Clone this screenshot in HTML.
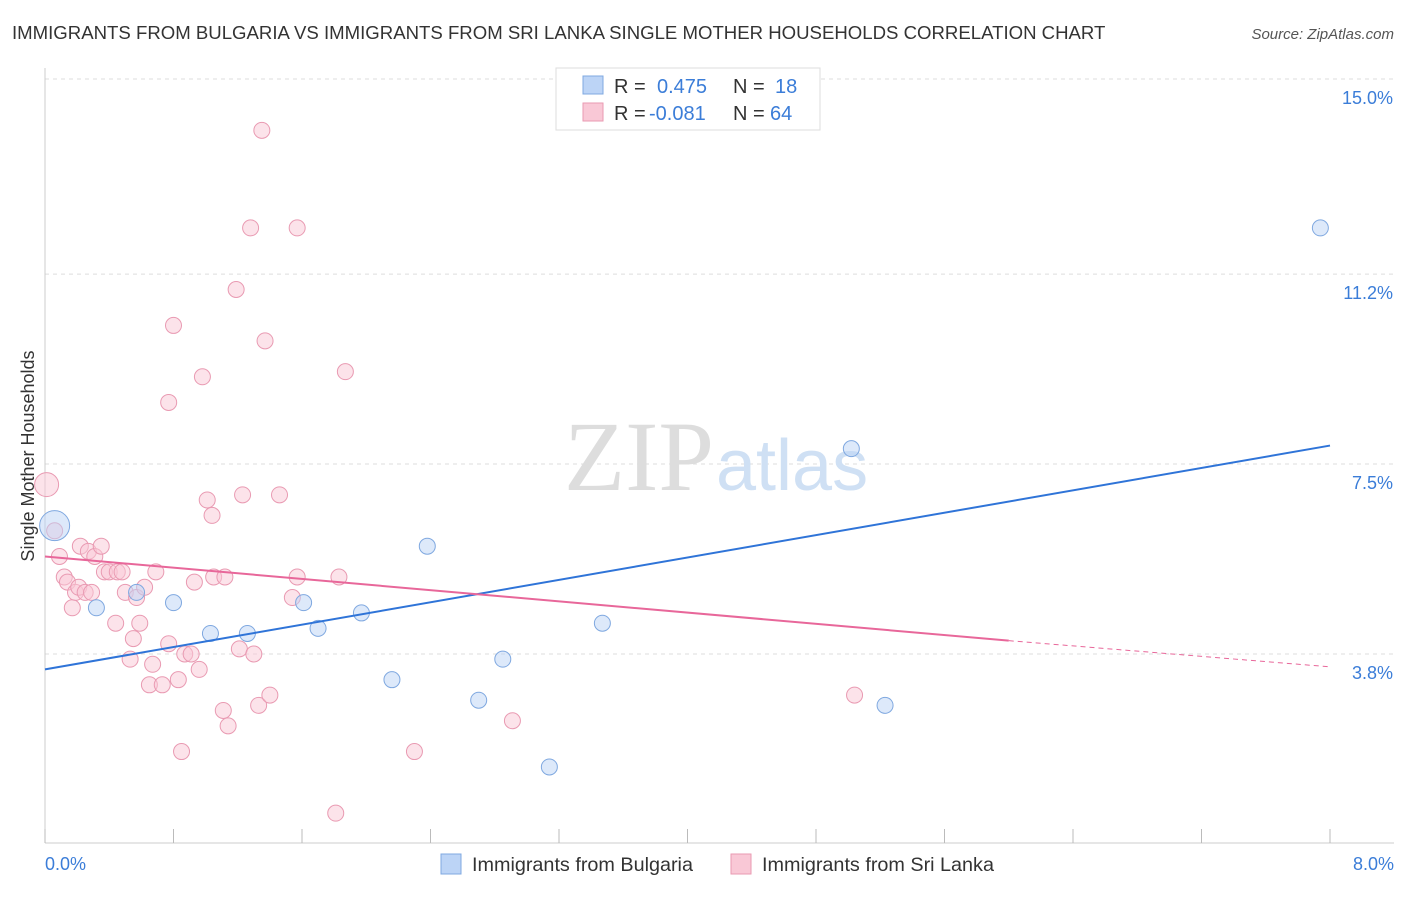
<!DOCTYPE html>
<html><head><meta charset="utf-8"><style>
body{margin:0;background:#fff;font-family:"Liberation Sans",sans-serif}
</style></head><body>
<svg width="1406" height="892" xmlns="http://www.w3.org/2000/svg" font-family="Liberation Sans, sans-serif">
<text x="12" y="39" font-size="18.6" fill="#333">IMMIGRANTS FROM BULGARIA VS IMMIGRANTS FROM SRI LANKA SINGLE MOTHER HOUSEHOLDS CORRELATION CHART</text>
<text x="1394" y="39" font-size="15" fill="#555" font-style="italic" text-anchor="end">Source: ZipAtlas.com</text>
<g id="grid"></g>
<text x="714" y="490" font-size="100" fill="#ddd" text-anchor="end" font-family="Liberation Serif, serif">ZIP</text>
<text x="716" y="490" font-size="72" fill="#cfe0f4">atlas</text>
<line x1="45" y1="68" x2="45" y2="843" stroke="#ccc"/>
<line x1="45" y1="843" x2="1394" y2="843" stroke="#ccc"/>
<g id="xt"></g>
<text transform="translate(34,456) rotate(-90)" font-size="18" fill="#333" text-anchor="middle">Single Mother Households</text>
<text x="45" y="870" font-size="18" fill="#3b7dd8">0.0%</text>
<text x="1394" y="870" font-size="18" fill="#3b7dd8" text-anchor="end">8.0%</text>
<g id="pts"></g>
<g id="lines"></g>
<g>
<rect x="556" y="68" width="264" height="62" fill="#fff" stroke="#ddd"/>
<rect x="583" y="76" width="20" height="18" fill="#bcd4f6" stroke="#7fa8e0"/>
<rect x="583" y="103" width="20" height="18" fill="#f9c8d6" stroke="#e99ab2"/>
<text y="93" font-size="20" fill="#333"><tspan x="614">R =</tspan><tspan x="657" fill="#3b7dd8">0.475</tspan><tspan x="733">N =</tspan><tspan x="775" fill="#3b7dd8">18</tspan></text>
<text y="120" font-size="20" fill="#333"><tspan x="614">R =</tspan><tspan x="649" fill="#3b7dd8">-0.081</tspan><tspan x="733">N =</tspan><tspan x="770" fill="#3b7dd8">64</tspan></text>
</g>
<g>
<rect x="441" y="854" width="20" height="20" fill="#bcd4f6" stroke="#7fa8e0"/>
<text x="472" y="871" font-size="19.8" fill="#333">Immigrants from Bulgaria</text>
<rect x="731" y="854" width="20" height="20" fill="#f9c8d6" stroke="#e99ab2"/>
<text x="762" y="871" font-size="19.8" fill="#333">Immigrants from Sri Lanka</text>
</g>
</svg>
<script>
const yTicks=[15.0,11.2,7.5,3.8];
const xTicks=[0,0.8,1.6,2.4,3.2,4.0,4.8,5.6,6.4,7.2,8.0];
const bulgariaX=[0.06,0.32,0.57,0.80,1.03,1.26,1.61,1.70,1.97,2.16,2.38,2.70,2.85,3.14,3.47,5.02,5.23,7.94];
const bulgariaY=[6.3,4.7,5.0,4.8,4.2,4.2,4.8,4.3,4.6,3.3,5.9,2.9,3.7,1.6,4.4,7.8,2.8,12.1];
const bulgariaR=[15,8,8,8,8,8,8,8,8,8,8,8,8,8,8,8,8,8];
const lankaX=[0.01,0.06,0.09,0.12,0.14,0.17,0.19,0.21,0.22,0.25,0.27,0.29,0.31,0.35,0.37,0.40,0.44,0.45,0.48,0.50,0.53,0.55,0.57,0.59,0.62,0.65,0.67,0.69,0.73,0.77,0.80,0.83,0.85,0.87,0.91,0.93,0.96,0.98,1.01,1.04,1.05,1.11,1.12,1.14,1.19,1.21,1.23,1.28,1.30,1.33,1.35,1.37,1.40,1.46,1.54,1.57,1.57,1.81,1.83,1.87,2.30,2.91,5.04,0.77];
const lankaY=[7.1,6.2,5.7,5.3,5.2,4.7,5.0,5.1,5.9,5.0,5.8,5.0,5.7,5.9,5.4,5.4,4.4,5.4,5.4,5.0,3.7,4.1,4.9,4.4,5.1,3.2,3.6,5.4,3.2,4.0,10.2,3.3,1.9,3.8,3.8,5.2,3.5,9.2,6.8,6.5,5.3,2.7,5.3,2.4,10.9,3.9,6.9,12.1,3.8,2.8,14.0,9.9,3.0,6.9,4.9,12.1,5.3,0.7,5.3,9.3,1.9,2.5,3.0,8.7];
const lankaR=[12,8,8,8,8,8,8,8,8,8,8,8,8,8,8,8,8,8,8,8,8,8,8,8,8,8,8,8,8,8,8,8,8,8,8,8,8,8,8,8,8,8,8,8,8,8,8,8,8,8,8,8,8,8,8,8,8,8,8,8,8,8,8,8];
const bulgariaTrend=[0,3.5,8,7.86];
const lankaTrend=[0,5.7,6.0,4.06,8,3.55];
const NS="http://www.w3.org/2000/svg";
const X=v=>45+v/8*1285, Y=v=>79+(15-v)*51.34;
function mk(t,a,p){const e=document.createElementNS(NS,t);for(const k in a)e.setAttribute(k,a[k]);document.getElementById(p).appendChild(e);return e;}
yTicks.forEach((t,i)=>{
 const l=mk('line',{x1:45,x2:1394,y1:Y(t),y2:Y(t),stroke:'#ddd','stroke-dasharray':'4,4'},'grid');
 
 
 const tx=mk('text',{x:1393,y:Y(t)+25,'font-size':18,fill:'#3b7dd8','text-anchor':'end'},'grid');
 tx.textContent=t.toFixed(1)+'%';
 
 
});
xTicks.forEach(t=>{
 const l=mk('line',{x1:X(t),x2:X(t),y1:829,y2:843,stroke:'#bbb'},'xt');
 
 
});
function pts(xs,ys,rs,fill,stroke,name){xs.forEach((x,i)=>{
 const c=mk('circle',{cx:X(x),cy:Y(ys[i]),r:rs[i],fill:fill,stroke:stroke,'stroke-width':1,'fill-opacity':0.5},'pts');
 
 
});}
pts(lankaX,lankaY,lankaR,'#f9c8d6','#e99ab2','sri-lanka-point');
pts(bulgariaX,bulgariaY,bulgariaR,'#bcd4f6','#7fa8e0','bulgaria-point');
const bl=mk('line',{x1:X(bulgariaTrend[0]),y1:Y(bulgariaTrend[1]),x2:X(bulgariaTrend[2]),y2:Y(bulgariaTrend[3]),stroke:'#2f74d8','stroke-width':2},'lines');


const pl=mk('line',{x1:X(lankaTrend[0]),y1:Y(lankaTrend[1]),x2:X(lankaTrend[2]),y2:Y(lankaTrend[3]),stroke:'#e8679a','stroke-width':2},'lines');


const pd=mk('line',{x1:X(lankaTrend[2]),y1:Y(lankaTrend[3]),x2:X(lankaTrend[4]),y2:Y(lankaTrend[5]),stroke:'#e8679a','stroke-width':1,'stroke-dasharray':'5,4'},'lines');


</script>
</body></html>
